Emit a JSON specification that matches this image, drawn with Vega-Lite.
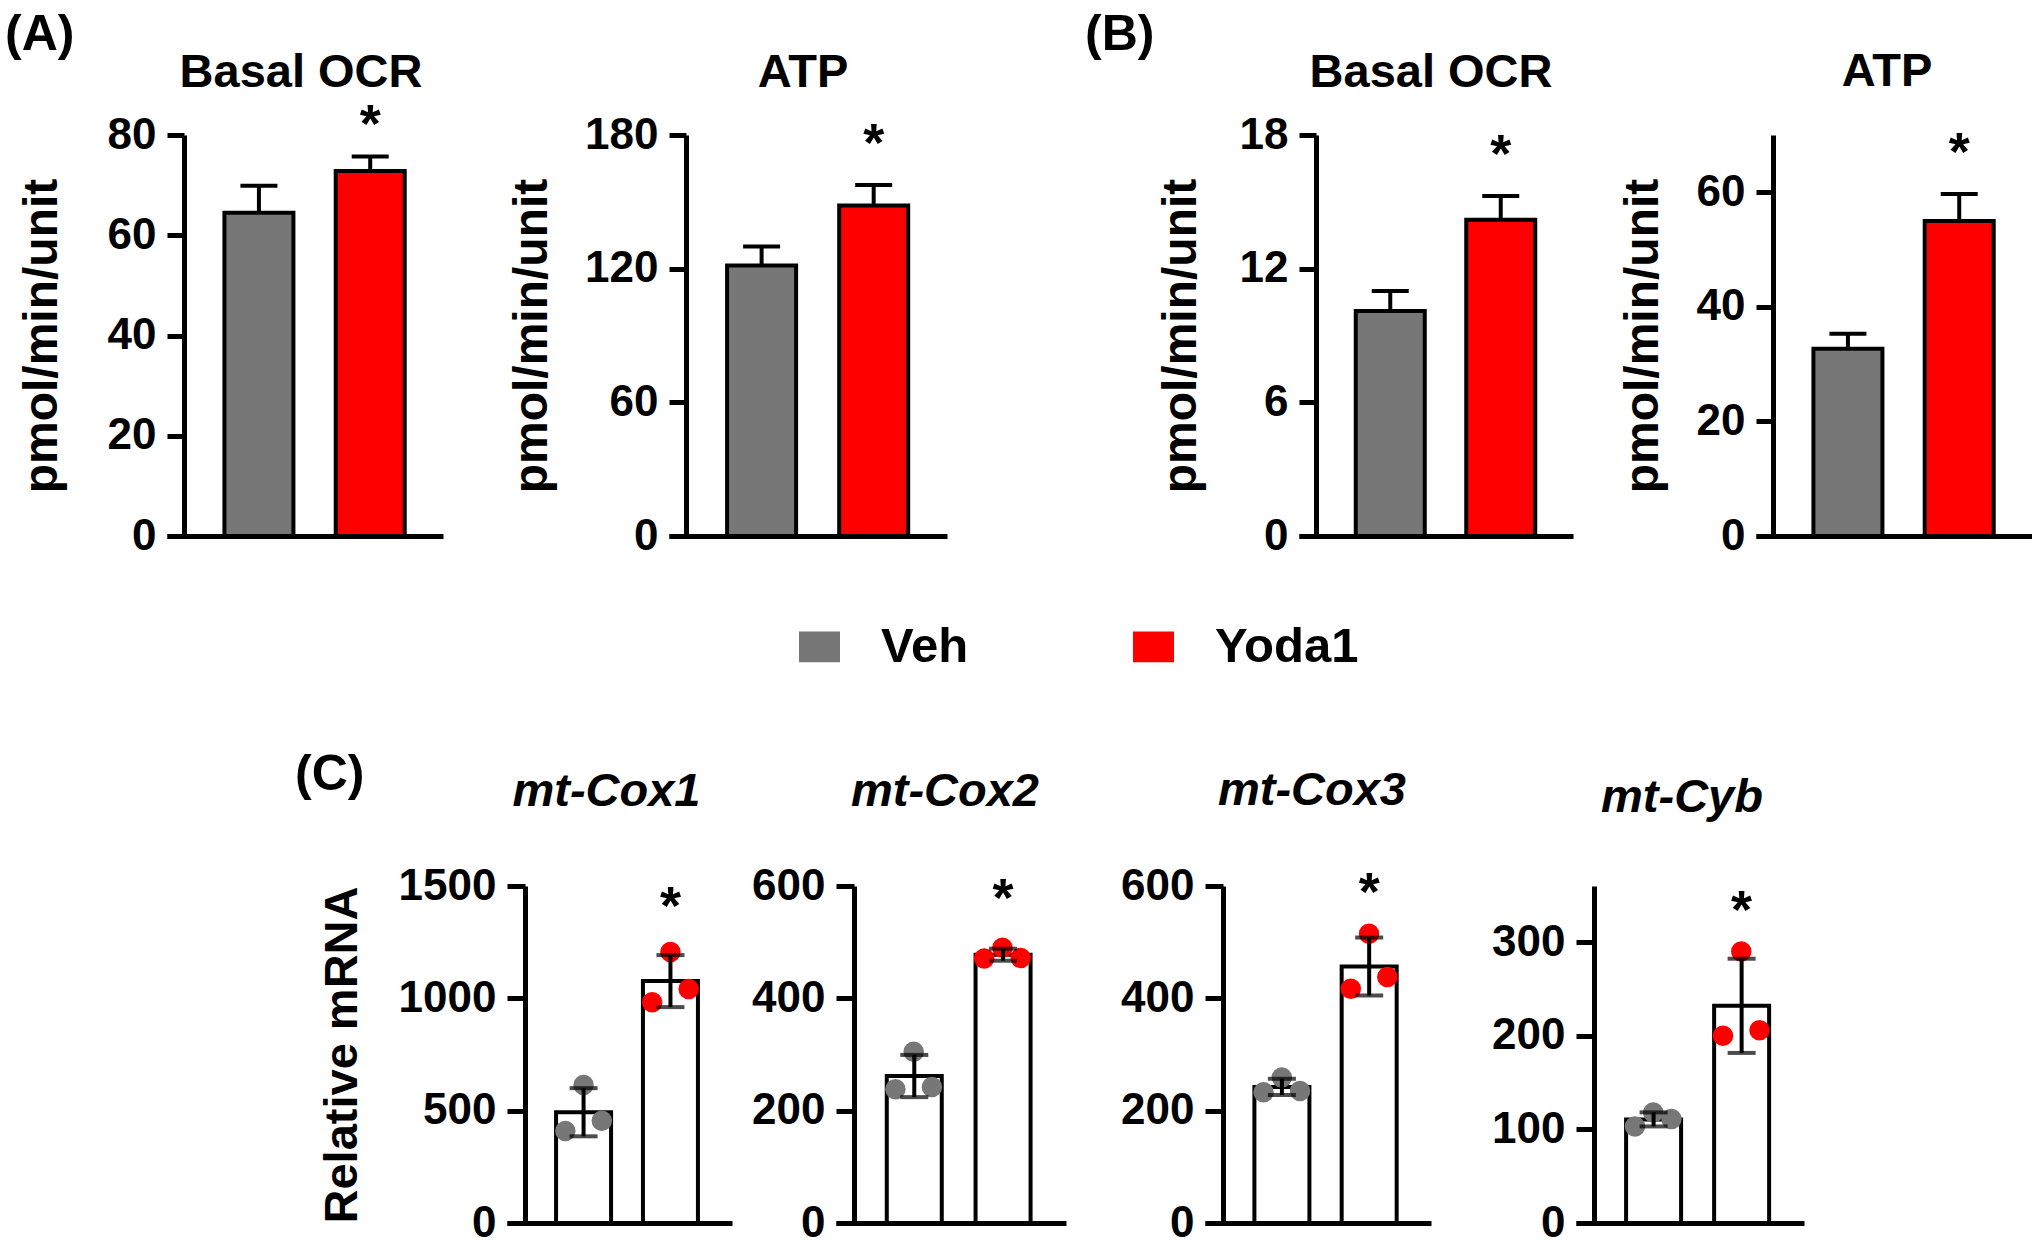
{
  "$schema": "https://vega.github.io/schema/vega-lite/v6.json",
  "padding": {"left": 5, "top": 10, "right": 0, "bottom": 0},
  "background": "white",
  "datasets": {
    "seahorse": [
      {"panel": "A", "measure": "Basal OCR", "group": "Veh", "mean": 64.5, "upper": 69.9},
      {"panel": "A", "measure": "Basal OCR", "group": "Yoda1", "mean": 72.8, "upper": 75.7},
      {"panel": "A", "measure": "ATP", "group": "Veh", "mean": 121.4, "upper": 129.9},
      {"panel": "A", "measure": "ATP", "group": "Yoda1", "mean": 148.3, "upper": 157.6},
      {"panel": "B", "measure": "Basal OCR", "group": "Veh", "mean": 10.1, "upper": 11.0},
      {"panel": "B", "measure": "Basal OCR", "group": "Yoda1", "mean": 14.2, "upper": 15.26},
      {"panel": "B", "measure": "ATP", "group": "Veh", "mean": 32.7, "upper": 35.3},
      {"panel": "B", "measure": "ATP", "group": "Yoda1", "mean": 55.0, "upper": 59.7}
    ],
    "qpcr": [
      {"gene": "mt-Cox1", "group": "Veh", "rep": 1, "value": 410},
      {"gene": "mt-Cox1", "group": "Veh", "rep": 2, "value": 614},
      {"gene": "mt-Cox1", "group": "Veh", "rep": 3, "value": 455},
      {"gene": "mt-Cox1", "group": "Yoda1", "rep": 1, "value": 983},
      {"gene": "mt-Cox1", "group": "Yoda1", "rep": 2, "value": 1206},
      {"gene": "mt-Cox1", "group": "Yoda1", "rep": 3, "value": 1041},
      {"gene": "mt-Cox2", "group": "Veh", "rep": 1, "value": 238},
      {"gene": "mt-Cox2", "group": "Veh", "rep": 2, "value": 305},
      {"gene": "mt-Cox2", "group": "Veh", "rep": 3, "value": 242},
      {"gene": "mt-Cox2", "group": "Yoda1", "rep": 1, "value": 471},
      {"gene": "mt-Cox2", "group": "Yoda1", "rep": 2, "value": 490},
      {"gene": "mt-Cox2", "group": "Yoda1", "rep": 3, "value": 472},
      {"gene": "mt-Cox3", "group": "Veh", "rep": 1, "value": 233},
      {"gene": "mt-Cox3", "group": "Veh", "rep": 2, "value": 259},
      {"gene": "mt-Cox3", "group": "Veh", "rep": 3, "value": 235},
      {"gene": "mt-Cox3", "group": "Yoda1", "rep": 1, "value": 417},
      {"gene": "mt-Cox3", "group": "Yoda1", "rep": 2, "value": 515},
      {"gene": "mt-Cox3", "group": "Yoda1", "rep": 3, "value": 438},
      {"gene": "mt-Cyb", "group": "Veh", "rep": 1, "value": 103},
      {"gene": "mt-Cyb", "group": "Veh", "rep": 2, "value": 118},
      {"gene": "mt-Cyb", "group": "Veh", "rep": 3, "value": 111},
      {"gene": "mt-Cyb", "group": "Yoda1", "rep": 1, "value": 200},
      {"gene": "mt-Cyb", "group": "Yoda1", "rep": 2, "value": 290},
      {"gene": "mt-Cyb", "group": "Yoda1", "rep": 3, "value": 206}
    ]
  },
  "bounds": "flush",
  "spacing": 751,
  "resolve": {"scale": {"fill": "shared"}, "legend": {"fill": "shared"}},
  "vconcat": [
    {
      "bounds": "flush",
      "spacing": 0,
      "resolve": {"scale": {"fill": "shared"}, "legend": {"fill": "shared"}},
      "hconcat": [
        {"width": 162, "height": 401, "title": {"text": "(A)", "anchor": "start", "fontSize": 50, "offset": 75}, "data": {"values": []}, "mark": "point"},
        {
          "width": 276, "height": 401,
          "title": {"text": "Basal OCR", "offset": 2, "dx": -4},
          "data": {"name": "seahorse"},
          "transform": [{"filter": "datum.panel === 'A' && datum.measure === 'Basal OCR'"}],
          "encoding": {"x": {"field": "group", "type": "nominal", "sort": ["Veh", "Yoda1"], "scale": {"type": "band", "paddingInner": 0.38, "paddingOuter": 0.43, "align": 0.6}, "axis": {"labels": false, "ticks": false, "title": null}}},
          "layer": [
            {"mark": {"type": "bar", "size": 69, "stroke": "black", "strokeWidth": 4}, "encoding": {"y": {"field": "mean", "type": "quantitative", "title": "pmol/min/unit", "scale": {"domain": [0, 80], "nice": false}, "axis": {"values": [0, 20, 40, 60, 80], "offset": -17, "titlePadding": 41}}, "fill": {"field": "group", "type": "nominal", "scale": {"domain": ["Veh", "Yoda1"], "range": ["#777777", "#ff0000"]}, "legend": {"title": null, "symbolType": "M-1,-0.75H1V0.75H-1Z"}}}},
            {"mark": {"type": "rule", "strokeWidth": 4, "color": "black"}, "encoding": {"y": {"field": "mean", "type": "quantitative", "title": "pmol/min/unit"}, "y2": {"field": "upper"}}},
            {"mark": {"type": "tick", "color": "black", "size": 37, "thickness": 4, "opacity": 1}, "encoding": {"y": {"field": "upper", "type": "quantitative", "title": "pmol/min/unit"}}},
            {"transform": [{"filter": "datum.group === 'Yoda1'"}], "mark": {"type": "text", "text": "*", "fontSize": 54, "fontWeight": "bold", "baseline": "alphabetic", "dy": -15, "color": "black"}, "encoding": {"y": {"field": "upper", "type": "quantitative", "title": "pmol/min/unit"}}}
          ]
        },
        {"width": 226, "height": 401, "data": {"values": []}, "mark": "point"},
        {
          "width": 278, "height": 401,
          "title": {"text": "ATP", "offset": 16, "dx": -5},
          "data": {"name": "seahorse"},
          "transform": [{"filter": "datum.panel === 'A' && datum.measure === 'ATP'"}],
          "encoding": {"x": {"field": "group", "type": "nominal", "sort": ["Veh", "Yoda1"], "scale": {"type": "band", "paddingInner": 0.38, "paddingOuter": 0.43, "align": 0.6}, "axis": {"labels": false, "ticks": false, "title": null}}},
          "layer": [
            {"mark": {"type": "bar", "size": 69, "stroke": "black", "strokeWidth": 4}, "encoding": {"y": {"field": "mean", "type": "quantitative", "title": "pmol/min/unit", "scale": {"domain": [0, 180], "nice": false}, "axis": {"values": [0, 60, 120, 180], "offset": -17, "titlePadding": 28}}, "fill": {"field": "group", "type": "nominal", "scale": {"domain": ["Veh", "Yoda1"], "range": ["#777777", "#ff0000"]}, "legend": {"title": null, "symbolType": "M-1,-0.75H1V0.75H-1Z"}}}},
            {"mark": {"type": "rule", "strokeWidth": 4, "color": "black"}, "encoding": {"y": {"field": "mean", "type": "quantitative", "title": "pmol/min/unit"}, "y2": {"field": "upper"}}},
            {"mark": {"type": "tick", "color": "black", "size": 37, "thickness": 4, "opacity": 1}, "encoding": {"y": {"field": "upper", "type": "quantitative", "title": "pmol/min/unit"}}},
            {"transform": [{"filter": "datum.group === 'Yoda1'"}], "mark": {"type": "text", "text": "*", "fontSize": 54, "fontWeight": "bold", "baseline": "alphabetic", "dy": -24, "color": "black"}, "encoding": {"y": {"field": "upper", "type": "quantitative", "title": "pmol/min/unit"}}}
          ]
        },
        {"width": 138, "height": 401, "data": {"values": []}, "mark": "point"},
        {"width": 214, "height": 401, "title": {"text": "(B)", "anchor": "start", "fontSize": 50, "offset": 75}, "data": {"values": []}, "mark": "point"},
        {
          "width": 274, "height": 401,
          "title": {"text": "Basal OCR", "offset": 16, "dx": -5},
          "data": {"name": "seahorse"},
          "transform": [{"filter": "datum.panel === 'B' && datum.measure === 'Basal OCR'"}],
          "encoding": {"x": {"field": "group", "type": "nominal", "sort": ["Veh", "Yoda1"], "scale": {"type": "band", "paddingInner": 0.38, "paddingOuter": 0.43, "align": 0.6}, "axis": {"labels": false, "ticks": false, "title": null}}},
          "layer": [
            {"mark": {"type": "bar", "size": 69, "stroke": "black", "strokeWidth": 4}, "encoding": {"y": {"field": "mean", "type": "quantitative", "title": "pmol/min/unit", "scale": {"domain": [0, 18], "nice": false}, "axis": {"values": [0, 6, 12, 18], "offset": -17, "titlePadding": 34}}, "fill": {"field": "group", "type": "nominal", "scale": {"domain": ["Veh", "Yoda1"], "range": ["#777777", "#ff0000"]}, "legend": {"title": null, "symbolType": "M-1,-0.75H1V0.75H-1Z"}}}},
            {"mark": {"type": "rule", "strokeWidth": 4, "color": "black"}, "encoding": {"y": {"field": "mean", "type": "quantitative", "title": "pmol/min/unit"}, "y2": {"field": "upper"}}},
            {"mark": {"type": "tick", "color": "black", "size": 37, "thickness": 4, "opacity": 1}, "encoding": {"y": {"field": "upper", "type": "quantitative", "title": "pmol/min/unit"}}},
            {"transform": [{"filter": "datum.group === 'Yoda1'"}], "mark": {"type": "text", "text": "*", "fontSize": 54, "fontWeight": "bold", "baseline": "alphabetic", "dy": -24, "color": "black"}, "encoding": {"y": {"field": "upper", "type": "quantitative", "title": "pmol/min/unit"}}}
          ]
        },
        {"width": 183, "height": 401, "data": {"values": []}, "mark": "point"},
        {
          "width": 276, "height": 401,
          "title": {"text": "ATP", "offset": 31, "dx": -7},
          "data": {"name": "seahorse"},
          "transform": [{"filter": "datum.panel === 'B' && datum.measure === 'ATP'"}],
          "encoding": {"x": {"field": "group", "type": "nominal", "sort": ["Veh", "Yoda1"], "scale": {"type": "band", "paddingInner": 0.38, "paddingOuter": 0.43, "align": 0.6}, "axis": {"labels": false, "ticks": false, "title": null}}},
          "layer": [
            {"mark": {"type": "bar", "size": 69, "stroke": "black", "strokeWidth": 4}, "encoding": {"y": {"field": "mean", "type": "quantitative", "title": "pmol/min/unit", "scale": {"domain": [0, 70], "nice": false}, "axis": {"values": [0, 20, 40, 60], "offset": -17, "titlePadding": 29}}, "fill": {"field": "group", "type": "nominal", "scale": {"domain": ["Veh", "Yoda1"], "range": ["#777777", "#ff0000"]}, "legend": {"title": null, "symbolType": "M-1,-0.75H1V0.75H-1Z"}}}},
            {"mark": {"type": "rule", "strokeWidth": 4, "color": "black"}, "encoding": {"y": {"field": "mean", "type": "quantitative", "title": "pmol/min/unit"}, "y2": {"field": "upper"}}},
            {"mark": {"type": "tick", "color": "black", "size": 37, "thickness": 4, "opacity": 1}, "encoding": {"y": {"field": "upper", "type": "quantitative", "title": "pmol/min/unit"}}},
            {"transform": [{"filter": "datum.group === 'Yoda1'"}], "mark": {"type": "text", "text": "*", "fontSize": 54, "fontWeight": "bold", "baseline": "alphabetic", "dy": -24, "color": "black"}, "encoding": {"y": {"field": "upper", "type": "quantitative", "title": "pmol/min/unit"}}}
          ]
        }
      ]
    },
    {
      "bounds": "flush",
      "spacing": 0,
      "resolve": {"scale": {"fill": "shared"}, "legend": {"fill": "shared"}},
      "hconcat": [
        {"width": 290, "height": 337, "data": {"values": []}, "mark": "point"},
        {"width": 212, "height": 337, "title": {"text": "(C)", "anchor": "start", "fontSize": 50, "offset": 86}, "data": {"values": []}, "mark": "point"},
        {
          "width": 225, "height": 337,
          "title": {"text": "mt-Cox1", "fontStyle": "italic", "offset": 48, "dx": -13},
          "data": {"name": "qpcr"},
          "transform": [{"filter": "datum.gene === 'mt-Cox1'"}],
          "encoding": {"x": {"field": "group", "type": "nominal", "sort": ["Veh", "Yoda1"], "scale": {"type": "band", "paddingInner": 0.37, "paddingOuter": 0.48, "align": 0.59}, "axis": {"labels": false, "ticks": false, "title": null}}},
          "layer": [
            {"mark": {"type": "bar", "size": 55, "fill": "white", "stroke": "black", "strokeWidth": 4}, "encoding": {"y": {"aggregate": "mean", "field": "value", "type": "quantitative", "title": "Relative mRNA", "scale": {"domain": [0, 1500], "nice": false}, "axis": {"values": [0, 500, 1000, 1500], "format": "d", "offset": -18, "tickSize": 18, "titlePadding": 32, "titleFontSize": 47}}}},
            {"mark": {"type": "point", "filled": true, "size": 420, "opacity": 1}, "encoding": {"y": {"field": "value", "type": "quantitative", "title": "Relative mRNA"}, "xOffset": {"field": "rep", "type": "nominal"}, "fill": {"field": "group", "type": "nominal", "scale": {"domain": ["Veh", "Yoda1"], "range": ["#777777", "#ff0000"]}, "legend": {"title": null, "symbolType": "M-1,-0.75H1V0.75H-1Z"}}}},
            {"mark": {"type": "errorbar", "extent": "stdev", "ticks": true, "size": 28, "thickness": 4, "color": "black"}, "encoding": {"y": {"field": "value", "type": "quantitative", "title": "Relative mRNA"}}},
            {"transform": [{"filter": "datum.group === 'Yoda1'"}], "mark": {"type": "text", "text": "*", "fontSize": 54, "fontWeight": "bold", "baseline": "alphabetic", "dy": -28, "color": "black"}, "encoding": {"y": {"aggregate": "max", "field": "value", "type": "quantitative", "title": "Relative mRNA"}}}
          ]
        },
        {"width": 104, "height": 337, "data": {"values": []}, "mark": "point"},
        {
          "width": 230, "height": 337,
          "title": {"text": "mt-Cox2", "fontStyle": "italic", "offset": 48, "dx": -6},
          "data": {"name": "qpcr"},
          "transform": [{"filter": "datum.gene === 'mt-Cox2'"}],
          "encoding": {"x": {"field": "group", "type": "nominal", "sort": ["Veh", "Yoda1"], "scale": {"type": "band", "paddingInner": 0.37, "paddingOuter": 0.48, "align": 0.59}, "axis": {"labels": false, "ticks": false, "title": null}}},
          "layer": [
            {"mark": {"type": "bar", "size": 55, "fill": "white", "stroke": "black", "strokeWidth": 4}, "encoding": {"y": {"aggregate": "mean", "field": "value", "type": "quantitative", "title": null, "scale": {"domain": [0, 600], "nice": false}, "axis": {"values": [0, 200, 400, 600], "format": "d", "offset": -18, "tickSize": 18}}}},
            {"mark": {"type": "point", "filled": true, "size": 420, "opacity": 1}, "encoding": {"y": {"field": "value", "type": "quantitative", "title": null}, "xOffset": {"field": "rep", "type": "nominal"}, "fill": {"field": "group", "type": "nominal", "scale": {"domain": ["Veh", "Yoda1"], "range": ["#777777", "#ff0000"]}, "legend": {"title": null, "symbolType": "M-1,-0.75H1V0.75H-1Z"}}}},
            {"mark": {"type": "errorbar", "extent": "stdev", "ticks": true, "size": 28, "thickness": 4, "color": "black"}, "encoding": {"y": {"field": "value", "type": "quantitative", "title": null}}},
            {"transform": [{"filter": "datum.group === 'Yoda1'"}], "mark": {"type": "text", "text": "*", "fontSize": 54, "fontWeight": "bold", "baseline": "alphabetic", "dy": -32, "color": "black"}, "encoding": {"y": {"aggregate": "max", "field": "value", "type": "quantitative", "title": null}}}
          ]
        },
        {"width": 139, "height": 337, "data": {"values": []}, "mark": "point"},
        {
          "width": 226, "height": 337,
          "title": {"text": "mt-Cox3", "fontStyle": "italic", "offset": 49, "dx": -6},
          "data": {"name": "qpcr"},
          "transform": [{"filter": "datum.gene === 'mt-Cox3'"}],
          "encoding": {"x": {"field": "group", "type": "nominal", "sort": ["Veh", "Yoda1"], "scale": {"type": "band", "paddingInner": 0.37, "paddingOuter": 0.48, "align": 0.59}, "axis": {"labels": false, "ticks": false, "title": null}}},
          "layer": [
            {"mark": {"type": "bar", "size": 55, "fill": "white", "stroke": "black", "strokeWidth": 4}, "encoding": {"y": {"aggregate": "mean", "field": "value", "type": "quantitative", "title": null, "scale": {"domain": [0, 600], "nice": false}, "axis": {"values": [0, 200, 400, 600], "format": "d", "offset": -18, "tickSize": 18}}}},
            {"mark": {"type": "point", "filled": true, "size": 420, "opacity": 1}, "encoding": {"y": {"field": "value", "type": "quantitative", "title": null}, "xOffset": {"field": "rep", "type": "nominal"}, "fill": {"field": "group", "type": "nominal", "scale": {"domain": ["Veh", "Yoda1"], "range": ["#777777", "#ff0000"]}, "legend": {"title": null, "symbolType": "M-1,-0.75H1V0.75H-1Z"}}}},
            {"mark": {"type": "errorbar", "extent": "stdev", "ticks": true, "size": 28, "thickness": 4, "color": "black"}, "encoding": {"y": {"field": "value", "type": "quantitative", "title": null}}},
            {"transform": [{"filter": "datum.group === 'Yoda1'"}], "mark": {"type": "text", "text": "*", "fontSize": 54, "fontWeight": "bold", "baseline": "alphabetic", "dy": -24, "color": "black"}, "encoding": {"y": {"aggregate": "max", "field": "value", "type": "quantitative", "title": null}}}
          ]
        },
        {"width": 145, "height": 337, "data": {"values": []}, "mark": "point"},
        {
          "width": 228, "height": 337,
          "title": {"text": "mt-Cyb", "fontStyle": "italic", "offset": 63, "dx": -8},
          "data": {"name": "qpcr"},
          "transform": [{"filter": "datum.gene === 'mt-Cyb'"}],
          "encoding": {"x": {"field": "group", "type": "nominal", "sort": ["Veh", "Yoda1"], "scale": {"type": "band", "paddingInner": 0.37, "paddingOuter": 0.48, "align": 0.59}, "axis": {"labels": false, "ticks": false, "title": null}}},
          "layer": [
            {"mark": {"type": "bar", "size": 55, "fill": "white", "stroke": "black", "strokeWidth": 4}, "encoding": {"y": {"aggregate": "mean", "field": "value", "type": "quantitative", "title": null, "scale": {"domain": [0, 360], "nice": false}, "axis": {"values": [0, 100, 200, 300], "format": "d", "offset": -18, "tickSize": 18}}}},
            {"mark": {"type": "point", "filled": true, "size": 420, "opacity": 1}, "encoding": {"y": {"field": "value", "type": "quantitative", "title": null}, "xOffset": {"field": "rep", "type": "nominal"}, "fill": {"field": "group", "type": "nominal", "scale": {"domain": ["Veh", "Yoda1"], "range": ["#777777", "#ff0000"]}, "legend": {"title": null, "symbolType": "M-1,-0.75H1V0.75H-1Z"}}}},
            {"mark": {"type": "errorbar", "extent": "stdev", "ticks": true, "size": 28, "thickness": 4, "color": "black"}, "encoding": {"y": {"field": "value", "type": "quantitative", "title": null}}},
            {"transform": [{"filter": "datum.group === 'Yoda1'"}], "mark": {"type": "text", "text": "*", "fontSize": 54, "fontWeight": "bold", "baseline": "alphabetic", "dy": -24, "color": "black"}, "encoding": {"y": {"aggregate": "max", "field": "value", "type": "quantitative", "title": null}}}
          ]
        }
      ]
    }
  ],
  "config": {
    "font": "Liberation Sans",
    "view": {"stroke": null},
    "axis": {"domainColor": "black", "domainWidth": 5, "tickColor": "black", "tickWidth": 5, "tickSize": 17, "labelFont": "Liberation Sans", "labelFontWeight": "bold", "labelFontSize": 44, "labelColor": "black", "labelPadding": 11, "titleFont": "Liberation Sans", "titleFontWeight": "bold", "titleFontSize": 48, "titleColor": "black", "grid": false, "labelOverlap": false},
    "title": {"font": "Liberation Sans", "fontSize": 47, "fontWeight": "bold", "color": "black", "baseline": "alphabetic", "frame": "group", "anchor": "middle"},
    "legend": {"orient": "none", "legendX": 790, "legendY": 487, "direction": "horizontal", "symbolSize": 1681, "labelFont": "Liberation Sans", "labelFontSize": 49, "labelFontWeight": "bold", "labelColor": "black", "labelOffset": 37, "columnPadding": 160, "symbolStrokeWidth": 0, "padding": 0}
  }
}
